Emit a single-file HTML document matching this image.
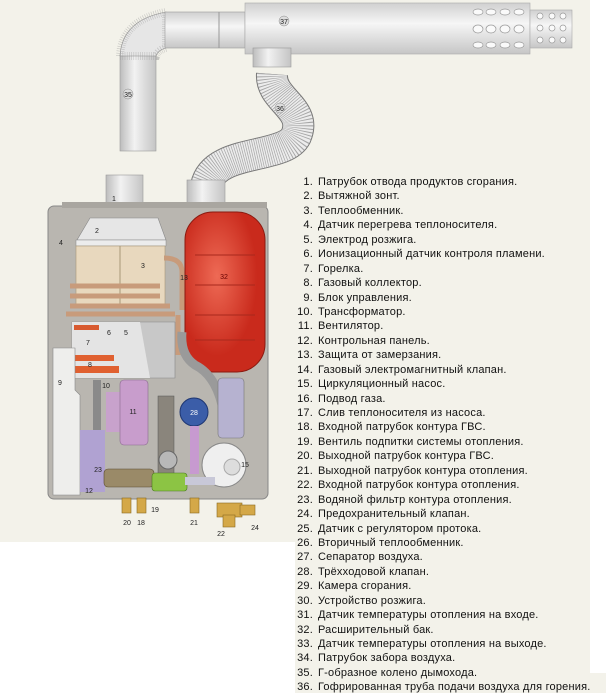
<!DOCTYPE html>
<html><head><meta charset="utf-8"><style>
html,body{margin:0;padding:0;width:606px;height:693px;overflow:hidden;background:#fff;position:relative}
.bg1{position:absolute;left:0;top:0;width:590px;height:542px;background:#f3f2ea}
.bg2{position:absolute;left:295px;top:542px;width:295px;height:151px;background:#f3f2ea}
.bg3{position:absolute;left:590px;top:673px;width:16px;height:20px;background:#f3f2ea}
svg{position:absolute;left:0;top:0}
.list{position:absolute;left:293px;top:175px;font-family:"Liberation Sans","Noto Sans CJK SC",sans-serif;font-size:11px;color:#111;line-height:14.43px;letter-spacing:0.2px}
.list div{white-space:nowrap}
.list span{display:inline-block;width:20px;text-align:right;margin-right:5px}
</style></head><body>
<div class="bg1"></div><div class="bg2"></div><div class="bg3"></div>
<svg width="606" height="693" viewBox="0 0 606 693" font-family="Liberation Sans, sans-serif">
<defs>
<linearGradient id="pv" x1="0" x2="1"><stop offset="0" stop-color="#bdbdbd"/><stop offset=".4" stop-color="#f2f2f2"/><stop offset="1" stop-color="#c4c4c4"/></linearGradient>
<linearGradient id="ph" x1="0" y1="0" x2="0" y2="1"><stop offset="0" stop-color="#d0d0d0"/><stop offset=".4" stop-color="#f6f6f6"/><stop offset="1" stop-color="#c6c6c6"/></linearGradient>
<radialGradient id="red" cx=".4" cy=".4"><stop offset="0" stop-color="#ee6a55"/><stop offset="1" stop-color="#c92a1c"/></radialGradient>
</defs>
<!-- chimney -->
<rect x="120" y="55" width="36" height="96" fill="url(#pv)" stroke="#999" stroke-width=".6"/>
<path d="M120 56 Q122 20 166 12 L166 48 Q158 50 156 56 Z" fill="#e6e6e6" stroke="#888" stroke-width=".6"/>
<path d="M120 56 Q122 20 166 12 L166 48 Q158 50 156 56 Z" fill="none" stroke="#999" stroke-width="8" stroke-dasharray="0.6 1.6" opacity=".5"/>
<rect x="165" y="12" width="80" height="36" fill="url(#ph)" stroke="#999" stroke-width=".6"/>
<line x1="219" y1="12" x2="219" y2="48" stroke="#999"/>
<rect x="245" y="3" width="285" height="51" fill="url(#ph)" stroke="#aaa" stroke-width=".6"/>
<rect x="530" y="10" width="42" height="38" fill="url(#ph)" stroke="#aaa" stroke-width=".6"/>
<g fill="#fafafa" stroke="#999" stroke-width=".7">
<ellipse cx="478" cy="12" rx="5" ry="3"/><ellipse cx="491" cy="12" rx="5" ry="3"/><ellipse cx="505" cy="12" rx="5" ry="3"/><ellipse cx="519" cy="12" rx="5" ry="3"/>
<ellipse cx="478" cy="29" rx="5" ry="4"/><ellipse cx="491" cy="29" rx="5" ry="4"/><ellipse cx="505" cy="29" rx="5" ry="4"/><ellipse cx="519" cy="29" rx="5" ry="4"/>
<ellipse cx="478" cy="45" rx="5" ry="3"/><ellipse cx="491" cy="45" rx="5" ry="3"/><ellipse cx="505" cy="45" rx="5" ry="3"/><ellipse cx="519" cy="45" rx="5" ry="3"/>
<circle cx="540" cy="16" r="3"/><circle cx="552" cy="16" r="3"/><circle cx="563" cy="16" r="3"/>
<circle cx="540" cy="28" r="3"/><circle cx="552" cy="28" r="3"/><circle cx="563" cy="28" r="3"/>
<circle cx="540" cy="40" r="3"/><circle cx="552" cy="40" r="3"/><circle cx="563" cy="40" r="3"/>
</g>
<rect x="253" y="48" width="38" height="19" fill="url(#pv)" stroke="#999" stroke-width=".6"/>
<!-- flexible hose -->
<path d="M272 74 C270 100 308 108 296 136 C284 160 214 148 206 186" fill="none" stroke="#777" stroke-width="32"/>
<path d="M272 74 C270 100 308 108 296 136 C284 160 214 148 206 186" fill="none" stroke="#ececec" stroke-width="30"/>
<path d="M272 74 C270 100 308 108 296 136 C284 160 214 148 206 186" fill="none" stroke="#888" stroke-width="30" stroke-dasharray="0.7 1.5" opacity=".7"/>
<g font-size="7" text-anchor="middle" fill="#222">
<circle cx="284" cy="21" r="5" fill="#ddd" stroke="#888" stroke-width=".5"/><text x="284" y="24">37</text>
<circle cx="128" cy="94" r="5" fill="#ddd" stroke="#888" stroke-width=".5"/><text x="128" y="97">35</text>
<circle cx="280" cy="108" r="5" fill="#ddd" stroke="#888" stroke-width=".5"/><text x="280" y="111">36</text>
</g>
<!-- flue tops -->
<rect x="106" y="175" width="37" height="42" fill="url(#pv)" stroke="#999" stroke-width=".6"/>
<rect x="187" y="180" width="38" height="28" fill="url(#pv)" stroke="#999" stroke-width=".6"/>
<!-- housing -->
<rect x="48" y="206" width="220" height="293" rx="6" fill="#b9b6b0" stroke="#888"/>
<rect x="62" y="202" width="205" height="6" fill="#a9a6a0"/>
<!-- hood -->
<path d="M90 218 L158 218 L166 240 L77 240 Z" fill="#e6e6e6" stroke="#888" stroke-width=".6"/>
<rect x="76" y="240" width="90" height="6" fill="#ececec" stroke="#888" stroke-width=".5"/>
<rect x="76" y="246" width="89" height="60" fill="#e8d8be" stroke="#a89878" stroke-width=".6"/>
<line x1="120" y1="246" x2="120" y2="306" stroke="#a89878"/>
<g fill="none" stroke="#c89b7b" stroke-width="5">
<path d="M70 286 L160 286"/><path d="M70 296 L160 296"/><path d="M70 306 L170 306"/><path d="M66 314 L175 314"/>
<path d="M164 258 Q182 258 182 272 L182 310"/>
<path d="M178 315 L178 355"/>
</g>
<!-- tank -->
<rect x="185" y="212" width="80" height="160" rx="28" fill="url(#red)" stroke="#8a1a10"/>
<g stroke="#a8281c" fill="none" stroke-width="1"><path d="M195 255 H255"/><path d="M195 285 H255"/><path d="M195 315 H255"/><path d="M195 340 H255"/></g>
<!-- burner -->
<path d="M72 322 L175 322 L175 378 L72 378 Z" fill="#c8c8c8" stroke="#888" stroke-width=".6"/>
<path d="M72 322 L140 322 L150 378 L72 378 Z" fill="#e4e4e4"/>
<rect x="74" y="325" width="25" height="5" fill="#d85a30"/><rect x="74" y="355" width="40" height="6" fill="#e06030"/><rect x="74" y="366" width="45" height="7" fill="#e06030"/>
<!-- gray pipe -->
<path d="M182 332 Q180 355 195 365 Q215 375 222 405 L222 430" fill="none" stroke="#9a9a9a" stroke-width="9"/>
<!-- left panel -->
<path d="M53 348 L75 348 L75 390 L80 395 L80 495 L53 495 Z" fill="#eeeeec" stroke="#888" stroke-width=".6"/>
<!-- fan -->
<rect x="106" y="392" width="14" height="40" fill="#c8a2cc"/>
<rect x="120" y="380" width="28" height="65" rx="4" fill="#c89dcc" stroke="#8a6a8e" stroke-width=".6"/>
<rect x="93" y="380" width="8" height="100" fill="#8a8a8a"/>
<!-- heat exchanger plates -->
<rect x="158" y="396" width="16" height="90" fill="#8a857c" stroke="#555" stroke-width=".5"/>
<!-- blue pump -->
<circle cx="194" cy="412" r="14" fill="#3b5da8" stroke="#1e3672"/>
<rect x="190" y="426" width="9" height="48" fill="#c79ad0"/>
<!-- three way valve -->
<rect x="218" y="378" width="26" height="60" rx="4" fill="#b6b2d0" stroke="#777" stroke-width=".6"/>
<!-- pump 15 -->
<circle cx="224" cy="465" r="22" fill="#efefef" stroke="#888"/>
<circle cx="232" cy="467" r="8" fill="#ddd" stroke="#aaa"/>
<circle cx="168" cy="460" r="9" fill="#b8b8b8" stroke="#666"/>
<!-- bottom -->
<rect x="80" y="430" width="25" height="62" fill="#b0a2d2"/>
<rect x="104" y="469" width="50" height="18" rx="4" fill="#9a8a68" stroke="#5a4a30" stroke-width=".6"/>
<rect x="152" y="473" width="35" height="18" rx="3" fill="#8cc444" stroke="#4a7a20" stroke-width=".6"/>
<rect x="185" y="477" width="30" height="8" fill="#c8c8d8"/>
<g fill="#d4a848" stroke="#8a6a20" stroke-width=".6">
<rect x="122" y="498" width="9" height="15"/><rect x="137" y="498" width="9" height="15"/><rect x="190" y="498" width="9" height="15"/>
<rect x="217" y="503" width="25" height="14"/><rect x="223" y="515" width="12" height="12"/><rect x="240" y="505" width="15" height="10"/>
</g>
<g font-size="7" text-anchor="middle" fill="#222">
<text x="114" y="201">1</text><text x="97" y="233">2</text><text x="143" y="268">3</text><text x="61" y="245">4</text>
<text x="126" y="335">5</text><text x="109" y="335">6</text><text x="88" y="345">7</text><text x="90" y="367">8</text>
<text x="60" y="385">9</text><text x="106" y="388">10</text><text x="133" y="414">11</text><text x="89" y="493">12</text>
<text x="184" y="280">13</text><text x="245" y="467">15</text><text x="98" y="472">23</text>
<text x="224" y="279" fill="#600">32</text><text x="194" y="415" fill="#fff">28</text>
<text x="127" y="525">20</text><text x="141" y="525">18</text><text x="155" y="512">19</text><text x="194" y="525">21</text><text x="221" y="536">22</text><text x="255" y="530">24</text>
</g>
</svg>
<div class="list">
<div><span>1.</span>Патрубок отвода продуктов сгорания.</div>
<div><span>2.</span>Вытяжной зонт.</div>
<div><span>3.</span>Теплообменник.</div>
<div><span>4.</span>Датчик перегрева теплоносителя.</div>
<div><span>5.</span>Электрод розжига.</div>
<div><span>6.</span>Ионизационный датчик контроля пламени.</div>
<div><span>7.</span>Горелка.</div>
<div><span>8.</span>Газовый коллектор.</div>
<div><span>9.</span>Блок управления.</div>
<div><span>10.</span>Трансформатор.</div>
<div><span>11.</span>Вентилятор.</div>
<div><span>12.</span>Контрольная панель.</div>
<div><span>13.</span>Защита от замерзания.</div>
<div><span>14.</span>Газовый электромагнитный клапан.</div>
<div><span>15.</span>Циркуляционный насос.</div>
<div><span>16.</span>Подвод газа.</div>
<div><span>17.</span>Слив теплоносителя из насоса.</div>
<div><span>18.</span>Входной патрубок контура ГВС.</div>
<div><span>19.</span>Вентиль подпитки системы отопления.</div>
<div><span>20.</span>Выходной патрубок контура ГВС.</div>
<div><span>21.</span>Выходной патрубок контура отопления.</div>
<div><span>22.</span>Входной патрубок контура отопления.</div>
<div><span>23.</span>Водяной фильтр контура отопления.</div>
<div><span>24.</span>Предохранительный клапан.</div>
<div><span>25.</span>Датчик с регулятором протока.</div>
<div><span>26.</span>Вторичный теплообменник.</div>
<div><span>27.</span>Сепаратор воздуха.</div>
<div><span>28.</span>Трёхходовой клапан.</div>
<div><span>29.</span>Камера сгорания.</div>
<div><span>30.</span>Устройство розжига.</div>
<div><span>31.</span>Датчик температуры отопления на входе.</div>
<div><span>32.</span>Расширительный бак.</div>
<div><span>33.</span>Датчик температуры отопления на выходе.</div>
<div><span>34.</span>Патрубок забора воздуха.</div>
<div><span>35.</span>Г-образное колено дымохода.</div>
<div><span>36.</span>Гофрированная труба подачи воздуха для горения.</div>
</div>
</body></html>
